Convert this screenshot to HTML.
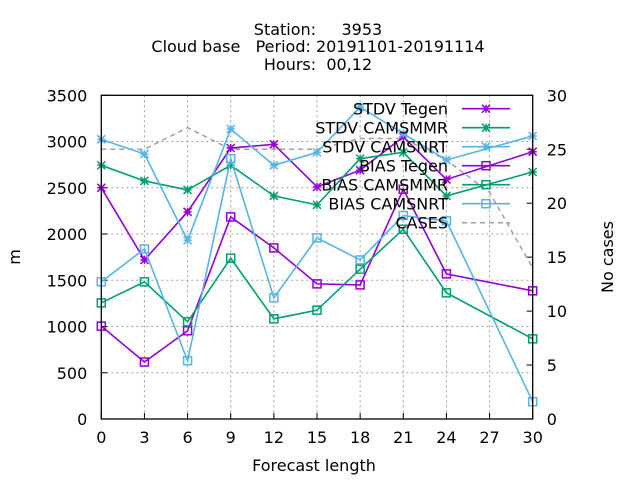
<!DOCTYPE html>
<html><head><meta charset="utf-8"><style>
html,body{margin:0;padding:0;background:#fff}
svg{display:block;font-family:"DejaVu Sans","Liberation Sans",sans-serif}
</style></head><body>
<svg id="chart" width="640" height="480" viewBox="0 0 640 480">
<text x="318" y="35" text-anchor="middle" font-size="16" xml:space="preserve">Station:     3953</text>
<text x="318" y="52" text-anchor="middle" font-size="16" xml:space="preserve">Cloud base   Period: 20191101-20191114</text>
<text x="318" y="70" text-anchor="middle" font-size="16" xml:space="preserve">Hours:  00,12</text>
<text x="314" y="471" text-anchor="middle" font-size="16">Forecast length</text>
<text transform="translate(20,257) rotate(-90)" text-anchor="middle" font-size="16">m</text>
<text transform="translate(613,257) rotate(-90)" text-anchor="middle" font-size="16">No cases</text>
<g id="grid"></g><g id="series"></g><g id="legend"></g>
<rect x="101.3" y="95.3" width="431.4" height="323.7" fill="none" stroke="#000" stroke-width="1.3"/>
</svg>
<script>
const xs = [0,3,6,9,12,15,18,21,24,30];
const stdvTegen = [2500,1720,2240,2930,2970,2510,2690,3050,2590,2890];
const stdvMMR = [2743,2574,2477,2743,2412,2315,2815,2883,2412,2671];
const stdvNRT = [3024,2865,1933,3135,2743,2883,3373,3085,2800,3060];
const biasTegen = [1004,616,954,2185,1850,1461,1450,2484,1569,1386];
const biasMMR = [1256,1483,1051,1739,1083,1177,1620,2052,1364,867];
const biasNRT = [1483,1839,630,2815,1310,1958,1720,2200,2142,187];
const casesX = [0,3,6,9,12,15,18,21,24,27,30];
const cases = [25,25,27,25,25,25,26,26,24,21,14];
const xTicks = [0,3,6,9,12,15,18,21,24,27,30];
const yTicks = [0,500,1000,1500,2000,2500,3000,3500];
const y2Ticks = [0,5,10,15,20,25,30];

const L=101.3,R=532.7,T=95.3,B=419;
const X=v=>L+(v/30)*(R-L);
const Y=v=>B-(v/3500)*(B-T);
const Y2=v=>B-(v/30)*(B-T);
const NS='http://www.w3.org/2000/svg';
function mk(tag,attrs,parent){const e=document.createElementNS(NS,tag);for(const k in attrs)e.setAttribute(k,attrs[k]);parent.appendChild(e);return e;}
const grid=document.getElementById('grid'),ser=document.getElementById('series'),leg=document.getElementById('legend');

xTicks.forEach(t=>{
  if(t>0&&t<30){const g=mk('line',{x1:X(t),x2:X(t),y1:T,y2:B,stroke:'#a0a0a0','stroke-dasharray':'2,3','stroke-width':1},grid);
  
  }
  const tk=mk('line',{x1:X(t),x2:X(t),y1:B,y2:B-6,stroke:'#000'},grid);
  
  
  const tx=mk('text',{x:X(t),y:B+24,'text-anchor':'middle','font-size':16},grid);tx.textContent=t;
  
  
});
yTicks.forEach(t=>{
  if(t>0&&t<3500){const g=mk('line',{x1:L,x2:R,y1:Y(t),y2:Y(t),stroke:'#a0a0a0','stroke-dasharray':'2,3','stroke-width':1},grid);
  
  }
  const tk=mk('line',{x1:L,x2:L+6,y1:Y(t),y2:Y(t),stroke:'#000'},grid);
  
  
  const tx=mk('text',{x:L-14,y:Y(t)+6,'text-anchor':'end','font-size':16},grid);tx.textContent=t;
  
  
});
y2Ticks.forEach(t=>{
  const tk=mk('line',{x1:R,x2:R-6,y1:Y2(t),y2:Y2(t),stroke:'#000'},grid);
  
  
  const tx=mk('text',{x:R+14,y:Y2(t)+6,'text-anchor':'start','font-size':16},grid);tx.textContent=t;
  
  
});

function star(x,y,c,p){const s=4;mk('path',{d:`M${x-s},${y}H${x+s}M${x},${y-s}V${y+s}M${x-s},${y-s}L${x+s},${y+s}M${x-s},${y+s}L${x+s},${y-s}`,stroke:c,'stroke-width':1.5,fill:'none'},p);}
function sq(x,y,c,p){mk('rect',{x:x-4,y:y-4,width:8,height:8,stroke:c,'stroke-width':1.5,fill:'none'},p);}

const defs=[
 ['STDV Tegen',stdvTegen,'#9400d3',star,'stdv-tegen'],
 ['STDV CAMSMMR',stdvMMR,'#009e73',star,'stdv-camsmmr'],
 ['STDV CAMSNRT',stdvNRT,'#56b4e9',star,'stdv-camsnrt'],
 ['BIAS Tegen',biasTegen,'#9400d3',sq,'bias-tegen'],
 ['BIAS CAMSMMR',biasMMR,'#009e73',sq,'bias-camsmmr'],
 ['BIAS CAMSNRT',biasNRT,'#56b4e9',sq,'bias-camsnrt']
];
const cg=mk('polyline',{points:casesX.map((x,i)=>X(x)+','+Y2(cases[i])).join(' '),fill:'none',stroke:'#a0a0a0','stroke-width':1.5,'stroke-dasharray':'5,4'},ser);


defs.forEach(([name,vals,c,m,id])=>{
  const g=mk('g',{},ser);
  
  
  mk('polyline',{points:xs.map((x,i)=>X(x)+','+Y(vals[i])).join(' '),fill:'none',stroke:c,'stroke-width':1.6},g);
  xs.forEach((x,i)=>m(X(x),Y(vals[i]),c,g));
});
const legRows=[...defs.map(d=>[d[0],d[2],d[3],d[4]]),['CASES','#a0a0a0',null,'cases']];
legRows.forEach(([name,c,m,id],i)=>{
  const y=108.7+i*19;
  const g=mk('g',{},leg);
  
  
  const t=mk('text',{x:448,y:y+6,'text-anchor':'end','font-size':16},g);t.textContent=name;
  if(m){mk('line',{x1:462,x2:510,y1:y,y2:y,stroke:c,'stroke-width':1.6},g);m(486,y,c,g);}
  else mk('line',{x1:462,x2:510,y1:y,y2:y,stroke:c,'stroke-width':1.5,'stroke-dasharray':'5,4'},g);
});
</script>
</body></html>
